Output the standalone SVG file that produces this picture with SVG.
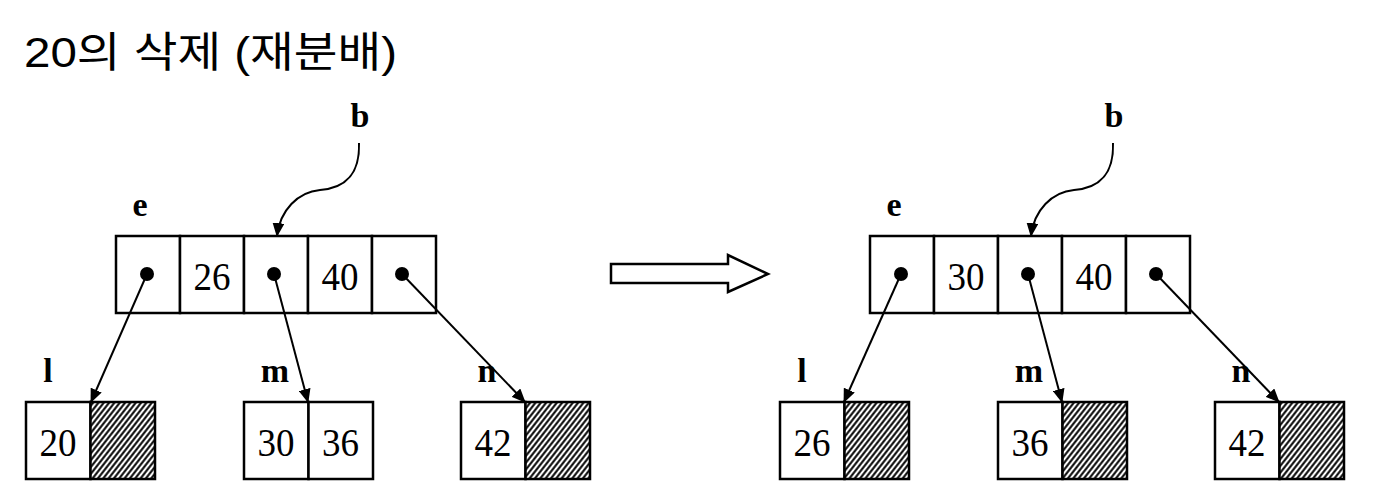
<svg xmlns="http://www.w3.org/2000/svg" width="1380" height="504" viewBox="0 0 1380 504">
<style>
.box{fill:#fff;stroke:#000;stroke-width:2.5}
.hatch{fill:url(#hatch);stroke:#000;stroke-width:2.5}
.num{font-family:"Liberation Serif","Times New Roman",serif;font-size:40px;text-anchor:middle;fill:#000}
.lbl{font-family:"Liberation Serif","Times New Roman",serif;font-size:34px;font-weight:bold;text-anchor:middle;fill:#000}
.title{font-family:"Liberation Sans","Noto Sans CJK KR",sans-serif;font-size:42px;fill:#000}
.dot{fill:#000}
.link{fill:none;stroke:#000;stroke-width:2;marker-end:url(#ah)}
</style>
<defs>
<marker id="ah" viewBox="0 0 14 12" refX="13" refY="6" markerWidth="14" markerHeight="12" markerUnits="userSpaceOnUse" orient="auto">
<path d="M0,0 L14,6 L0,12 z" fill="#000"/>
</marker>
<pattern id="hatch" patternUnits="userSpaceOnUse" width="4.2" height="10" patternTransform="rotate(38)">
<rect width="4.2" height="10" fill="#fff"/>
<line x1="2.1" y1="0" x2="2.1" y2="10" stroke="#000" stroke-width="2"/>
</pattern>
</defs>
<rect width="1380" height="504" fill="#fff"/>
<text class="title" x="24" y="67" textLength="373" lengthAdjust="spacingAndGlyphs">20의 삭제 (재분배)</text>

<!-- LEFT -->
<g id="left-b"><text class="lbl" x="360" y="127">b</text></g>
<g id="left-e">
<text class="lbl" x="140" y="216">e</text>
<rect class="box" x="116" y="236" width="64" height="77"/>
<rect class="box" x="180" y="236" width="64" height="77"/>
<rect class="box" x="244" y="236" width="64" height="77"/>
<rect class="box" x="308" y="236" width="64" height="77"/>
<rect class="box" x="372" y="236" width="64" height="77"/>
<text class="num" x="212" y="290" textLength="37" lengthAdjust="spacingAndGlyphs">26</text>
<text class="num" x="340" y="290" textLength="37" lengthAdjust="spacingAndGlyphs">40</text>
<circle class="dot" cx="147" cy="274" r="7"/>
<circle class="dot" cx="274" cy="274" r="7"/>
<circle class="dot" cx="402" cy="274" r="7"/>
</g>
<g id="left-l">
<text class="lbl" x="48" y="382">l</text>
<rect class="box" x="26" y="402" width="64.5" height="77"/>
<rect class="hatch" x="90.5" y="402" width="64.5" height="77"/>
<text class="num" x="58" y="456" textLength="37" lengthAdjust="spacingAndGlyphs">20</text>
</g>
<g id="left-m">
<text class="lbl" x="275" y="382">m</text>
<rect class="box" x="244" y="402" width="64.5" height="77"/>
<rect class="box" x="308.5" y="402" width="64.5" height="77"/>
<text class="num" x="276" y="456" textLength="37" lengthAdjust="spacingAndGlyphs">30</text>
<text class="num" x="340.5" y="456" textLength="37" lengthAdjust="spacingAndGlyphs">36</text>
</g>
<g id="left-n">
<text class="lbl" x="487" y="382">n</text>
<rect class="box" x="461" y="402" width="64.5" height="77"/>
<rect class="hatch" x="525.5" y="402" width="64.5" height="77"/>
<text class="num" x="493" y="456" textLength="37" lengthAdjust="spacingAndGlyphs">42</text>
</g>

<!-- transition arrow -->
<g id="transition">
<path d="M611,264 L728,264 L728,255 L768,274 L728,292 L728,283 L611,283 z" fill="#fff" stroke="#000" stroke-width="2.5" stroke-linejoin="miter"/>
</g>

<!-- RIGHT -->
<g id="right-b"><text class="lbl" x="1114" y="127">b</text></g>
<g id="right-e">
<text class="lbl" x="894" y="216">e</text>
<rect class="box" x="870" y="236" width="64" height="77"/>
<rect class="box" x="934" y="236" width="64" height="77"/>
<rect class="box" x="998" y="236" width="64" height="77"/>
<rect class="box" x="1062" y="236" width="64" height="77"/>
<rect class="box" x="1126" y="236" width="64" height="77"/>
<text class="num" x="966" y="290" textLength="37" lengthAdjust="spacingAndGlyphs">30</text>
<text class="num" x="1094" y="290" textLength="37" lengthAdjust="spacingAndGlyphs">40</text>
<circle class="dot" cx="901" cy="274" r="7"/>
<circle class="dot" cx="1028" cy="274" r="7"/>
<circle class="dot" cx="1156" cy="274" r="7"/>
</g>
<g id="right-l">
<text class="lbl" x="802" y="382">l</text>
<rect class="box" x="780" y="402" width="64.5" height="77"/>
<rect class="hatch" x="844.5" y="402" width="64.5" height="77"/>
<text class="num" x="812" y="456" textLength="37" lengthAdjust="spacingAndGlyphs">26</text>
</g>
<g id="right-m">
<text class="lbl" x="1029" y="382">m</text>
<rect class="box" x="998" y="402" width="64.5" height="77"/>
<rect class="hatch" x="1062.5" y="402" width="64.5" height="77"/>
<text class="num" x="1030" y="456" textLength="37" lengthAdjust="spacingAndGlyphs">36</text>
</g>
<g id="right-n">
<text class="lbl" x="1241" y="382">n</text>
<rect class="box" x="1215" y="402" width="64.5" height="77"/>
<rect class="hatch" x="1279.5" y="402" width="64.5" height="77"/>
<text class="num" x="1247" y="456" textLength="37" lengthAdjust="spacingAndGlyphs">42</text>
</g>

<g id="connectors">
<path class="link" d="M359,143 C360,175 345,188 320,190 C298,192 280,210 277,236"/>
<line class="link" x1="147" y1="274" x2="91" y2="402"/>
<line class="link" x1="274" y1="274" x2="308" y2="402"/>
<line class="link" x1="402" y1="274" x2="525" y2="402"/>
<path class="link" d="M1113,143 C1114,175 1099,188 1074,190 C1052,192 1034,210 1031,236"/>
<line class="link" x1="901" y1="274" x2="844" y2="402"/>
<line class="link" x1="1028" y1="274" x2="1062" y2="402"/>
<line class="link" x1="1156" y1="274" x2="1279" y2="402"/>
</g>
</svg>
